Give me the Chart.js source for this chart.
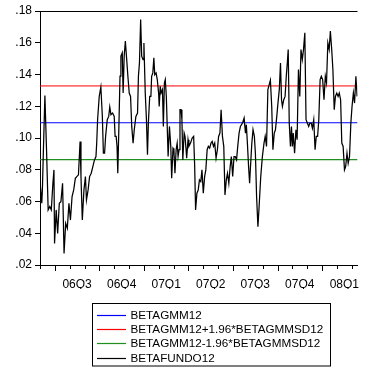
<!DOCTYPE html>
<html>
<head>
<meta charset="utf-8">
<script src="https://cdn.jsdelivr.net/npm/chart.js@4/dist/chart.umd.min.js"></script>
<style>
  html, body { margin: 0; padding: 0; background: #fff; }
  #wrap { width: 371px; height: 369px; }
</style>
</head>
<body>
<div id="wrap"><canvas id="c" width="371" height="369"></canvas></div>
<script>
// Observation times, in months since 1 June 2006
const months = [
  0.01,0.12,0.16,0.23,0.33,0.44,0.55,0.66,0.76,0.87,0.94,0.98,1.09,1.19,1.30,1.41,1.52,1.62,1.73,1.84,
  1.95,2.05,2.16,2.27,2.38,2.48,2.59,2.70,2.76,2.85,2.96,3.06,3.13,3.24,3.34,3.45,3.56,3.67,3.77,3.82,
  3.88,3.99,4.10,4.20,4.27,4.35,4.42,4.53,4.63,4.70,4.78,4.89,5.00,5.06,5.13,5.19,5.24,5.32,5.39,5.45,
  5.54,5.60,5.67,5.75,5.84,5.92,6.01,6.10,6.18,6.27,6.35,6.46,6.57,6.63,6.70,6.78,6.85,6.94,7.00,
  7.09,7.17,7.24,7.30,7.39,7.47,7.52,7.60,7.67,7.73,7.82,7.90,7.99,8.03,8.10,8.16,8.25,8.31,8.38,8.44,
  8.51,8.57,8.63,8.72,8.81,8.87,8.96,9.02,9.09,9.17,9.24,9.30,9.37,9.43,9.50,9.56,9.62,9.71,9.77,9.84,
  9.88,9.97,10.03,10.14,10.25,10.35,10.42,10.48,10.57,10.66,10.74,10.83,10.91,11.00,11.09,11.17,11.26,
  11.34,11.43,11.52,11.60,11.69,11.77,11.86,11.95,12.03,12.12,12.20,12.29,12.38,12.46,12.55,12.63,12.72,
  12.81,12.89,12.98,13.07,13.15,13.24,13.32,13.41,13.50,
  13.64,13.75,13.84,13.90,13.97,14.05,14.12,14.18,14.27,14.35,14.44,14.51,14.59,14.68,14.76,14.87,14.98,
  15.09,15.17,15.26,15.35,15.44,15.52,15.61,15.69,15.78,15.86,15.95,16.03,16.12,16.20,16.27,16.33,16.42,
  16.51,16.59,16.66,16.72,16.79,16.87,16.94,17.00,17.06,17.15,17.24,17.32,17.41,17.50,17.58,17.67,17.75,
  17.84,17.92,18.01,18.10,18.18,18.27,18.35,18.44,18.53,18.61,18.70,18.78,18.87,18.95,19.04,19.13,19.22,
  19.30,19.39,19.48,19.56,19.65,19.73,19.82,19.90,19.99,20.08,20.16,20.25,20.33,20.42,20.51,20.59,20.68,
  20.76,20.85,20.94,21.02,21.11,21.19,21.28,21.36
];

// BETAFUNDO12: rolling fund beta
const betaFundo12 = [
  .0715,.0589,.0673,.0926,.1267,.0926,.0547,.0568,.0547,.0715,.0799,.0336,.0547,.0399,.0589,.0599,.0715,.0273,.0462,.0431,
  .0589,.0483,.0631,.0673,.0746,.0757,.0768,.0978,.0757,.0483,.0673,.0757,.0610,.0673,.0757,.0778,.0820,.0862,.0883,.0968,
  .1115,.1262,.1321,.1136,.0904,.0904,.1010,.1115,.1136,.1195,.1147,.1157,.1136,.1010,.1010,.0947,.0778,.1094,.1389,.1515,
  .1536,.1283,.1515,.1610,.1494,.1389,.1283,.1262,.1073,.0968,.1052,.1136,.1157,.1389,.1473,.1747,.1515,.1494,.1599,
  .1283,.1115,.0894,.1094,.1262,.1262,.1389,.1410,.1505,.1399,.1410,.1368,.1283,.1199,.1326,.1283,.1305,.1073,.1347,.1368,
  .1262,.1073,.0883,.1073,.0947,.0746,.0936,.0926,.0778,.0926,.0968,.0883,.0926,.1178,.1178,.1115,.0862,.1031,.1010,.0926,
  .0873,.0989,.0947,.0968,.0999,.1010,.0820,.0547,.0652,.0673,.0736,.0725,.0799,.0652,.0757,.0799,.0926,
  .0947,.0936,.0968,.0978,.0947,.0968,.0873,.0926,.1010,.1031,.1178,.1010,.0947,.0641,.0736,.0778,.0715,
  .0820,.0883,.0757,.0883,.0883,.0862,.0947,.1031,.1073,
  .1094,.1126,.1031,.1084,.0968,.0820,.0715,.0820,.0968,.1052,.1010,.0904,.0631,.0441,.0568,.0757,.0883,
  .0968,.1010,.0947,.1305,.1336,.1364,.1199,.0926,.1031,.1052,.1136,.1220,.1305,.1473,.1241,.1199,.1241,
  .1262,.1389,.1473,.1557,.1094,.0947,.1073,.0947,.1031,.0904,.1052,.0989,.1431,.1262,.1557,.1494,.1557,
  .1663,.1115,.1094,.1073,.1094,.1094,.1062,.1115,.0926,.1010,.1010,.1115,.1368,.1389,.1368,.1241,.1389,
  .1347,.1599,.1557,.1673,.1557,.1431,.1178,.1262,.1283,.1262,.1283,.1241,.0968,.0947,.0799,.0820,.0904,
  .0841,.0883,.1094,.1199,.1283,.1220,.1389,.1262
];

// Full-sample GMM beta and its 1.96 * s.d. band
const betaGmm12 = 0.1096;
const band196 = 0.0232;

const seriesNames = ['BETAGMM12', 'BETAGMM12+1.96*BETAGMMSD12', 'BETAGMM12-1.96*BETAGMMSD12', 'BETAFUNDO12'];
const seriesColors = ['#0000ff', '#ff0000', '#1f8f1f', '#000000'];

const quarterLabels = ['06Q3','06Q4','07Q1','07Q2','07Q3','07Q4','08Q1'];
const quarterMid = [2.5, 5.5, 8.5, 11.5, 14.5, 17.5, 20.5];
const monthTicks = [0,1,2,3,4,5,6,7,8,9,10,11,12,13,14,15,16,17,18,19,20,21];

const xMin = 0, xMax = 21.39;
const yMin = 0.02, yMax = 0.18;

const flat = v => [{x: xMin, y: v}, {x: xMax, y: v}];

const series = months.map((m, i) => ({x: m, y: betaFundo12[i]}));

const FONT = "'Liberation Sans', Arial, sans-serif";

// Frame top edge, month tick marks and boxed legend
const decor = {
  id: 'decor',
  afterDraw(chart) {
    const ctx = chart.ctx;
    const a = chart.chartArea;
    const xs = chart.scales.x;
    ctx.save();
    ctx.strokeStyle = '#000';
    ctx.lineWidth = 1;
    ctx.beginPath();
    ctx.moveTo(a.left, a.top + 0.5);
    ctx.lineTo(a.right, a.top + 0.5);
    ctx.stroke();

    ctx.beginPath();
    monthTicks.forEach(m => {
      const px = Math.round(xs.getPixelForValue(m)) + 0.5;
      const len = (m % 3 === 1) ? 6 : 4;
      ctx.moveTo(px, a.bottom);
      ctx.lineTo(px, a.bottom + len);
    });
    ctx.stroke();

    // legend
    ctx.strokeStyle = '#000';
    ctx.strokeRect(92.5, 303.5, 238, 62.5);
    ctx.font = '11.7px ' + FONT;
    ctx.textBaseline = 'middle';
    seriesNames.forEach((name, i) => {
      const cy = Math.round(315 + i * 14.2);
      ctx.beginPath();
      ctx.strokeStyle = seriesColors[i];
      ctx.lineWidth = 1.2;
      ctx.moveTo(97, cy + 0.5);
      ctx.lineTo(126, cy + 0.5);
      ctx.stroke();
      ctx.fillStyle = '#000';
      ctx.fillText(name, 130.5, cy + 1);
    });
    ctx.restore();
  }
};

new Chart(document.getElementById('c'), {
  type: 'line',
  data: {
    datasets: [
      { label: seriesNames[0], data: flat(betaGmm12), borderColor: seriesColors[0], borderWidth: 1, order: 3 },
      { label: seriesNames[1], data: flat(betaGmm12 + band196), borderColor: seriesColors[1], borderWidth: 1, order: 2 },
      { label: seriesNames[2], data: flat(betaGmm12 - band196), borderColor: seriesColors[2], borderWidth: 1.2, order: 1 },
      { label: seriesNames[3], data: series, borderColor: seriesColors[3], borderWidth: 1.25, order: 0 }
    ]
  },
  options: {
    responsive: false,
    animation: false,
    elements: { point: { radius: 0 }, line: { tension: 0 } },
    layout: { padding: { top: 11, right: 0, bottom: 80, left: 0 } },
    plugins: { legend: { display: false }, tooltip: { enabled: false } },
    scales: {
      x: {
        type: 'linear',
        min: xMin, max: xMax,
        afterBuildTicks(scale) { scale.ticks = quarterMid.map(v => ({value: v})); },
        afterFit(scale) { scale.height = 24; },
        grid: { display: true, drawOnChartArea: false, drawTicks: false },
        border: { display: true, color: '#000', width: 1 },
        ticks: {
          autoSkip: false, maxRotation: 0, padding: 12,
          color: '#000', font: { family: FONT, size: 12 },
          callback: (v, i) => quarterLabels[i]
        }
      },
      y: {
        min: yMin, max: yMax,
        afterFit(scale) { scale.width = 40; },
        grid: { drawOnChartArea: false, drawTicks: true, tickLength: 5, tickColor: '#000' },
        border: { display: true, color: '#000', width: 1 },
        ticks: {
          stepSize: 0.02, padding: 3, color: '#000',
          font: { family: FONT, size: 12 },
          callback: v => v.toFixed(2).replace(/^0/, '')
        }
      }
    }
  },
  plugins: [decor]
});
</script>
</body>
</html>
